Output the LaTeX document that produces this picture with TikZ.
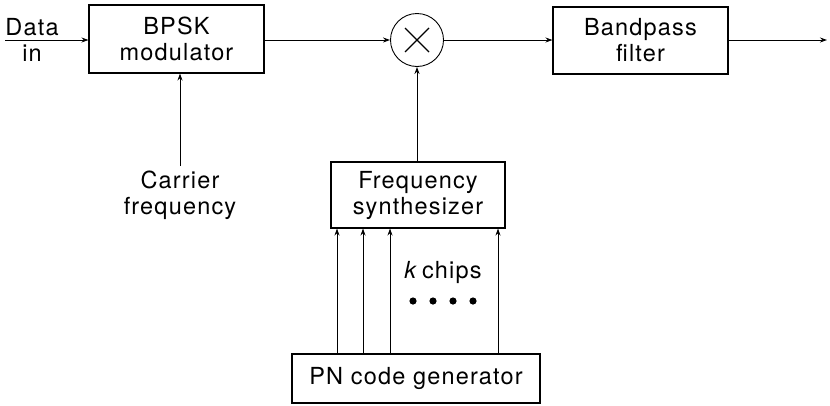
\documentclass[tikz,border=0pt]{standalone}
\usepackage{fontspec}
\setmainfont{TeX Gyre Heros}[LetterSpace=5]
\usetikzlibrary{arrows.meta}
\begin{document}
\begin{tikzpicture}[x=1pt,y=-1pt,
  font=\fontsize{23.5}{26}\selectfont,
  blk/.style={draw,line width=1.1pt,inner sep=0pt,align=center},
  lbl/.style={inner sep=0pt,align=center},
  sig/.style={line width=0.9pt,-{Stealth[length=7pt,width=5pt]}}]
  \useasboundingbox (0,0) rectangle (830,405);

  % blocks of the transmitter
  \node[blk,minimum width=175pt,minimum height=68pt] (bpsk) at (176.5,39) {BPSK\\modulator};
  \node[draw,circle,line width=0.9pt,minimum size=53pt,inner sep=0pt] (mix) at (417,40) {};
  \draw[line width=1.2pt] ([shift={(-12pt,-12pt)}]mix.center) -- ([shift={(12pt,12pt)}]mix.center)
                          ([shift={(-12pt,12pt)}]mix.center) -- ([shift={(12pt,-12pt)}]mix.center);
  \node[blk,minimum width=175pt,minimum height=67pt] (bpf) at (640.5,40.5) {Bandpass\\filter};
  \node[blk,minimum width=174pt,minimum height=66pt] (synth) at (418,195) {Frequency\\synthesizer};
  \node[blk,minimum width=248pt,minimum height=49pt] (pn) at (416,378.5) {PN code generator};

  % labels
  \node[lbl] (din) at (32,40) {Data\\in};
  \coordinate (dstart) at (5,40);
  \node[lbl] (car) at (180,195) {Carrier\\frequency};
  \coordinate (carTop) at (180,166);
  \coordinate (out) at (827,40);
  \node[lbl] (kchips) at (443,272) {\textit{k}\,chips};
  \foreach \i/\x in {1/413,2/433,3/453,4/473}
    \fill (\x,301) circle (3.6pt) coordinate (dot\i);

  % signal path
  \draw[sig] (dstart) -- (bpsk.west |- dstart);
  \draw[sig] (bpsk.east |- mix.west) -- (mix.west);
  \draw[sig] (mix.east) -- (bpf.west |- mix.east);
  \draw[sig] (bpf.east |- out) -- (out);
  \draw[sig] (carTop) -- (bpsk.south -| carTop);
  \draw[sig] (synth.north -| mix.south) -- (mix.south);

  % chip lines from the PN generator
  \foreach \x in {337,363,390,498}
    \draw[sig] (pn.north -| \x,0) -- (synth.south -| \x,0);
\end{tikzpicture}
\end{document}
